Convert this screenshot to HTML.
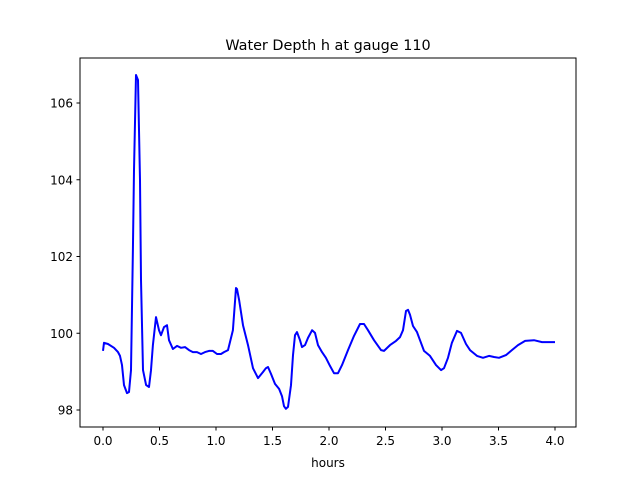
<!DOCTYPE html>
<html><head><meta charset="utf-8"><style>body{margin:0;background:#fff}svg text{font-family:"DejaVu Sans","Liberation Sans",sans-serif;font-size:12px;fill:#000}</style></head>
<body>
<svg id="chart" width="640" height="480" xmlns="http://www.w3.org/2000/svg">
<rect width="640" height="480" fill="#fff"/>
<text x="328" y="50" text-anchor="middle" style="font-size:14.4px">Water Depth h at gauge 110</text>
<text x="328" y="467" text-anchor="middle">hours</text>
<g id="ticks"></g>
<path id="line" fill="none" stroke="#0000ff" stroke-width="2" stroke-linejoin="round"/>
<rect x="80" y="58" width="496" height="369" fill="none" stroke="#000" stroke-width="1"/>
</svg>
<script>
const hours=[0,0.009,0.044,0.097,0.133,0.150,0.168,0.186,0.212,0.230,0.248,0.265,0.274,0.292,0.310,0.327,0.336,0.354,0.381,0.407,0.425,0.442,0.469,0.496,0.513,0.540,0.566,0.584,0.619,0.655,0.690,0.726,0.761,0.796,0.832,0.867,0.903,0.938,0.973,1.009,1.044,1.071,1.106,1.150,1.177,1.186,1.204,1.239,1.283,1.327,1.372,1.416,1.442,1.460,1.487,1.522,1.558,1.584,1.602,1.619,1.637,1.664,1.681,1.699,1.717,1.743,1.761,1.788,1.814,1.850,1.876,1.903,1.938,1.973,2.009,2.044,2.080,2.115,2.168,2.221,2.274,2.310,2.345,2.398,2.460,2.487,2.540,2.593,2.628,2.655,2.681,2.699,2.717,2.743,2.779,2.805,2.841,2.894,2.947,2.991,3.018,3.053,3.088,3.133,3.168,3.212,3.248,3.310,3.363,3.416,3.460,3.504,3.566,3.619,3.673,3.735,3.814,3.885,3.938,4.0];
const depth=[99.54,99.75,99.72,99.62,99.51,99.41,99.17,98.65,98.44,98.47,99.04,102.17,104.25,106.73,106.60,103.99,101.39,99.04,98.65,98.60,99.04,99.69,100.42,100.08,99.95,100.16,100.21,99.82,99.59,99.67,99.62,99.64,99.56,99.51,99.51,99.46,99.51,99.54,99.54,99.46,99.46,99.51,99.56,100.08,101.18,101.15,100.87,100.21,99.69,99.09,98.83,98.99,99.09,99.12,98.94,98.68,98.55,98.36,98.10,98.03,98.08,98.65,99.43,99.95,100.03,99.82,99.64,99.69,99.88,100.08,100.01,99.69,99.51,99.36,99.15,98.96,98.96,99.17,99.56,99.93,100.24,100.24,100.08,99.82,99.56,99.54,99.69,99.80,99.90,100.08,100.58,100.61,100.48,100.19,100.03,99.82,99.54,99.41,99.17,99.04,99.09,99.36,99.75,100.06,100.01,99.72,99.56,99.41,99.36,99.41,99.38,99.36,99.43,99.56,99.69,99.80,99.82,99.77,99.77,99.77];
const xTicks=[0,0.5,1,1.5,2,2.5,3,3.5,4];
const xTickLabels=["0.0","0.5","1.0","1.5","2.0","2.5","3.0","3.5","4.0"];
const yTicks=[98,100,102,104,106];
const sx=t=>103+t*113;
const sy=v=>410-(v-98)*38.375;
const ns="http://www.w3.org/2000/svg";
const g=document.getElementById('ticks');
function mk(tag,attrs){const e=document.createElementNS(ns,tag);for(const k in attrs)e.setAttribute(k,attrs[k]);return e;}
xTicks.forEach((t,i)=>{
 const l=mk('line',{x1:sx(t),x2:sx(t),y1:427,y2:430.5,stroke:'#000'});
 
 
 g.appendChild(l);
 const tx=mk('text',{x:sx(t),y:445,'text-anchor':'middle'});
 
 
 tx.textContent=xTickLabels[i];g.appendChild(tx);
});
yTicks.forEach(v=>{
 const l=mk('line',{x1:76.5,x2:80,y1:sy(v),y2:sy(v),stroke:'#000'});
 
 
 g.appendChild(l);
 const tx=mk('text',{x:73,y:sy(v)+4.5,'text-anchor':'end'});
 
 
 tx.textContent=String(v);g.appendChild(tx);
});
document.getElementById('line').setAttribute('d',hours.map((t,i)=>(i?'L':'M')+sx(t).toFixed(1)+','+sy(depth[i]).toFixed(1)).join(''));
</script>
</body></html>
